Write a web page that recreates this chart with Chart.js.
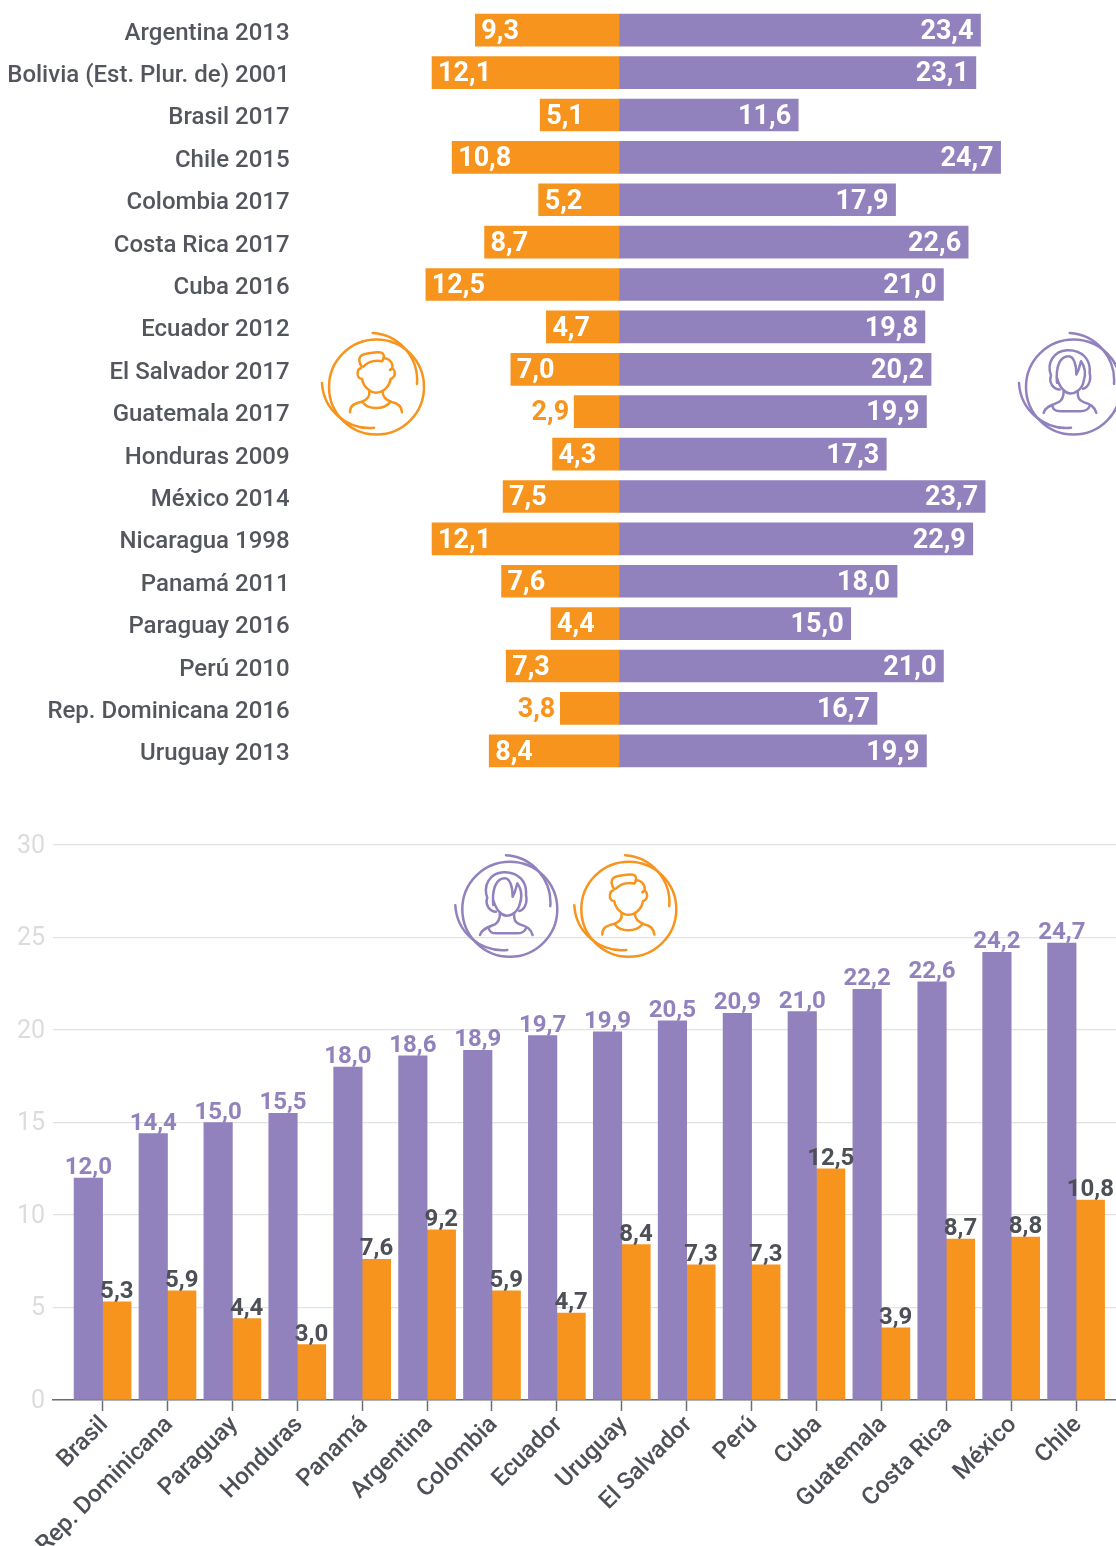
<!DOCTYPE html>
<html>
<head>
<meta charset="utf-8">
<script src="https://cdn.jsdelivr.net/npm/chart.js@4"></script>
<style>
html,body{margin:0;padding:0;background:#fff;width:1116px;height:1546px;overflow:hidden}
canvas{position:absolute;left:0;display:block}
svg{position:absolute;left:0;top:0;pointer-events:none}
</style>
</head>
<body>
<canvas id="top" width="1116" height="790" style="top:0"></canvas>
<canvas id="bottom" width="1116" height="746" style="top:800px"></canvas>
<svg width="1116" height="1546" viewBox="0 0 1116 1546" fill="none" stroke-linecap="round" stroke-linejoin="round">
  <defs>
    <g id="rings">
      <circle cx="0" cy="0" r="47.5"/>
      <path d="M -3.8 -54 A 47.5 47.5 0 0 1 40.5 -3"/>
      <path d="M -54.5 -4 A 47.5 47.5 0 0 0 -2.5 40.7"/>
    </g>
    <g id="man">
      <use href="#rings"/>
      <g transform="scale(0.3333) translate(-229.5,-201)" stroke-width="7.5">
        <path d="M185 140 C172 120 178 105 195 102 C215 100 235 92 248 100 C256 108 250 120 246 124 C225 120 205 125 190 140"/>
        <path d="M250 115 C262 112 280 125 277 145 L270 150"/>
        <path d="M183 145 C172 145 170 165 176 172 C180 177 186 177 186 177 C190 200 210 218 228 218 C250 218 268 200 272 177 C280 175 288 165 283 152 C280 145 275 145 272 148"/>
        <path d="M208 215 C210 232 200 240 185 245 C165 250 150 255 150 277"/>
        <path d="M248 215 C248 232 258 240 275 246 C295 250 305 258 306 277"/>
        <path d="M188 247 C205 270 250 270 270 247"/>
      </g>
    </g>
    <g id="woman">
      <use href="#rings"/>
      <g transform="scale(0.3333) translate(-209.5,-192.5)" stroke-width="7.5">
        <path d="M168 200 C150 200 134 180 142 158 C128 120 150 85 190 82 C235 80 262 110 258 150 C264 175 252 195 238 198"/>
        <path d="M160 180 C155 125 172 100 195 100 C210 100 218 125 218 155 C228 140 228 125 232 115 C243 130 248 150 240 175 C235 200 215 212 200 212 C185 212 168 195 160 165"/>
        <path d="M120 270 C125 250 150 245 165 238 C178 230 180 215 180 205"/>
        <path d="M222 205 C222 225 225 232 240 238 C260 245 272 250 278 270"/>
        <path d="M145 248 C150 262 155 265 170 265 L230 265 C245 265 255 258 258 250"/>
      </g>
    </g>
  </defs>
  <use href="#man" transform="translate(376.5,387)" stroke="#F7941D" stroke-width="2.5"/>
  <use href="#woman" transform="translate(1073.5,387)" stroke="#9181BD" stroke-width="2.5"/>
  <use href="#woman" transform="translate(509.8,909.2)" stroke="#9181BD" stroke-width="2.5"/>
  <use href="#man" transform="translate(628.8,909.2)" stroke="#F7941D" stroke-width="2.5"/>
</svg>
<script>
const PURPLE = '#9181BD', ORANGE = '#F7941D', DARK = '#4E5058';

const rowLabels = ['Argentina 2013','Bolivia (Est. Plur. de) 2001','Brasil 2017','Chile 2015','Colombia 2017','Costa Rica 2017','Cuba 2016','Ecuador 2012','El Salvador 2017','Guatemala 2017','Honduras 2009','México 2014','Nicaragua 1998','Panamá 2011','Paraguay 2016','Perú 2010','Rep. Dominicana 2016','Uruguay 2013'];
const rowMen   = [9.3,12.1,5.1,10.8,5.2,8.7,12.5,4.7,7.0,2.9,4.3,7.5,12.1,7.6,4.4,7.3,3.8,8.4];
const rowWomen = [23.4,23.1,11.6,24.7,17.9,22.6,21.0,19.8,20.2,19.9,17.3,23.7,22.9,18.0,15.0,21.0,16.7,19.9];

const countries = ['Brasil','Rep. Dominicana','Paraguay','Honduras','Panamá','Argentina','Colombia','Ecuador','Uruguay','El Salvador','Perú','Cuba','Guatemala','Costa Rica','México','Chile'];
const colWomen = [12.0,14.4,15.0,15.5,18.0,18.6,18.9,19.7,19.9,20.5,20.9,21.0,22.2,22.6,24.2,24.7];
const colMen   = [5.3,5.9,4.4,3.0,7.6,9.2,5.9,4.7,8.4,7.3,7.3,12.5,3.9,8.7,8.8,10.8];
const yTicks = [0,5,10,15,20,25,30];

const fmt = v => v.toFixed(1).replace('.', ',');

const rowLabelPlugin = {
  id: 'rowLabels',
  afterDatasetsDraw(chart) {
    const c = chart.ctx;
    c.save();
    c.font = '700 27px Roboto';
    c.textBaseline = 'middle';
    chart.getDatasetMeta(0).data.forEach((el, i) => {
      const v = rowMen[i];
      if (v < 4) {
        c.fillStyle = ORANGE; c.textAlign = 'right';
        c.fillText(fmt(v), el.x - 5, el.y + 2);
      } else {
        c.fillStyle = '#fff'; c.textAlign = 'left';
        c.fillText(fmt(v), el.x + 6, el.y + 2);
      }
    });
    chart.getDatasetMeta(1).data.forEach((el, i) => {
      c.fillStyle = '#fff'; c.textAlign = 'right';
      c.fillText(fmt(rowWomen[i]), el.x - 7, el.y + 2);
    });
    c.restore();
  }
};

new Chart(document.getElementById('top'), {
  type: 'bar',
  data: {
    labels: rowLabels,
    datasets: [
      { data: rowMen.map(v => -v), backgroundColor: ORANGE, barThickness: 32 },
      { data: rowWomen, backgroundColor: PURPLE, barThickness: 32 }
    ]
  },
  options: {
    indexAxis: 'y', responsive: false, animation: false,
    layout: { padding: { top: 9, bottom: 18 } },
    plugins: { legend: { display: false }, tooltip: { enabled: false } },
    scales: {
      x: { stacked: true, display: false, min: -21, max: 32.17 },
      y: {
        stacked: true,
        grid: { display: false, drawTicks: false },
        border: { display: false },
        afterFit(s) { s.width = 294.55; s.paddingTop = 0; s.paddingBottom = 0; },
        ticks: { autoSkip: false, padding: 5, labelOffset: 3.5, color: '#54565E', font: { family: 'Roboto', size: 24, weight: '500' } }
      }
    }
  },
  plugins: [rowLabelPlugin]
});

const colLabelPlugin = {
  id: 'colLabels',
  afterDatasetsDraw(chart) {
    const c = chart.ctx;
    c.save();
    c.font = '700 24px Roboto';
    c.textAlign = 'center';
    c.textBaseline = 'alphabetic';
    chart.getDatasetMeta(0).data.forEach((el, i) => {
      c.fillStyle = PURPLE;
      c.fillText(fmt(colWomen[i]), el.x, el.y - 4);
    });
    chart.getDatasetMeta(1).data.forEach((el, i) => {
      c.fillStyle = DARK;
      c.fillText(fmt(colMen[i]), el.x, el.y - 4);
    });
    c.restore();
  }
};

new Chart(document.getElementById('bottom'), {
  type: 'bar',
  data: {
    datasets: [
      { data: colWomen.map((v, i) => ({ x: i, y: v })), backgroundColor: PURPLE, barThickness: 28.5 },
      { data: colMen.map((v, i) => ({ x: i, y: v })), backgroundColor: ORANGE, barThickness: 28.5 }
    ]
  },
  options: {
    responsive: false, animation: false,
    layout: { padding: { top: 45, left: 0, right: 0, bottom: 0 } },
    plugins: { legend: { display: false }, tooltip: { enabled: false } },
    scales: {
      x: {
        type: 'linear', offset: false, min: -0.764, max: 15.615,
        afterBuildTicks(s) { s.ticks = countries.map((_, i) => ({ value: i })); },
        afterFit(s) { s.height = 146; },
        grid: { offset: false, drawOnChartArea: false, tickLength: 11, tickColor: '#6B6C74', tickWidth: 1.5 },
        border: { color: '#6B6C74', width: 1.5 },
        ticks: {
          autoSkip: false, minRotation: 45, maxRotation: 45, padding: 0, labelOffset: 2,
          color: DARK, font: { family: 'Roboto', size: 24, weight: '500' },
          callback: v => countries[v]
        }
      },
      y: {
        min: 0, max: 30,
        afterBuildTicks(s) { s.ticks = yTicks.map(v => ({ value: v })); },
        afterFit(s) { s.width = 53; },
        grid: { color: '#E2E2E2', lineWidth: 1.2, drawTicks: false },
        border: { display: false },
        ticks: { padding: 8, labelOffset: 1.5, color: '#DCDCDC', font: { family: 'Roboto', size: 25 } }
      }
    }
  },
  plugins: [colLabelPlugin]
});
</script>
</body>
</html>
